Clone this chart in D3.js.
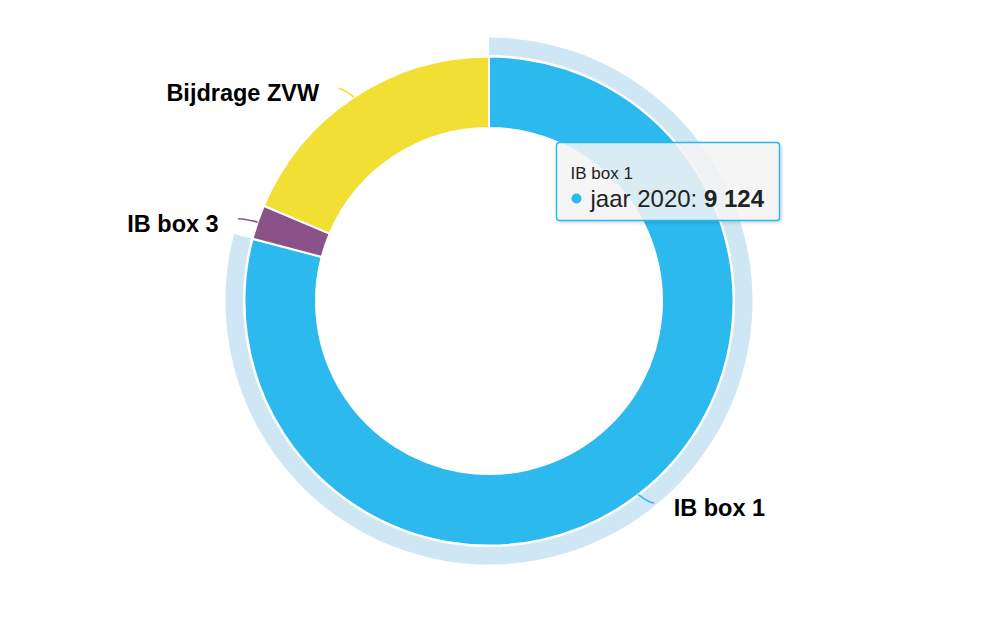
<!DOCTYPE html>
<html>
<head>
<meta charset="utf-8">
<script src="https://cdn.jsdelivr.net/npm/d3@7"></script>
<style>
  html, body { margin: 0; padding: 0; background: #fff; }
  svg { display: block; font-family: "Liberation Sans", Arial, Helvetica, sans-serif; }
</style>
</head>
<body>
<svg id="chart" width="1006" height="632"></svg>
<script>
// slices, clockwise from 12 o'clock
const categories = ["IB box 1", "IB box 3", "Bijdrage ZVW"];
const values = [9124, 262, 2149];
const seriesName = "jaar 2020";
const colors = ["#2bb9ee", "#8b5189", "#f1df33"];
const hovered = 0; // slice with tooltip + halo

const cx = 489, cy = 301;
const outerR = 244.5, innerR = 173;
const labelR = 255; // radius used to place the labels vertically

const svg = d3.select("#chart");
const g = svg.append("g").attr("transform", `translate(${cx},${cy})`);

const pie = d3.pie().sort(null).value(d => d.value);
const arcs = pie(categories.map((c, i) => ({ name: c, value: values[i], color: colors[i] })));

const arc = d3.arc().innerRadius(innerR).outerRadius(outerR);
const halo = d3.arc().innerRadius(outerR + 1.5).outerRadius(outerR + 19);

// halo behind hovered slice
g.append("path")
  .attr("d", halo(arcs[hovered]))
  .attr("fill", "#cfe7f4");

g.selectAll("path.slice")
  .data(arcs)
  .enter()
  .append("path")
  .attr("class", "slice")
  .attr("d", arc)
  .attr("fill", d => d.data.color)
  .attr("stroke", "#fff")
  .attr("stroke-width", 2)
  .attr("stroke-linejoin", "round");

// data labels with short curved connectors
const polar = (a, r) => [r * Math.sin(a), -r * Math.cos(a)];
arcs.forEach(d => {
  const mid = (d.startAngle + d.endAngle) / 2;
  const right = Math.sin(mid) > 0;
  const p = polar(mid, outerR);
  const ay = -labelR * Math.cos(mid);
  const ax = (right ? 1 : -1) * (Math.sqrt(labelR * labelR - ay * ay) + 9.5);
  g.append("path")
    .attr("d", `M${ax},${ay} Q${(ax + p[0]) / 2 + (right ? 3 : -3)},${ay} ${p[0]},${p[1]}`)
    .attr("fill", "none")
    .attr("stroke", d.data.color)
    .attr("stroke-width", 1.5);
  g.append("text")
    .attr("x", ax + (right ? 19.5 : -19.5))
    .attr("y", ay + 13)
    .attr("text-anchor", right ? "start" : "end")
    .attr("font-size", 23.5)
    .attr("font-weight", "bold")
    .attr("fill", "#000")
    .text(d.data.name);
});

// tooltip for the hovered point
const defs = svg.append("defs");
const f = defs.append("filter").attr("id", "shadow")
  .attr("x", "-10%").attr("y", "-10%").attr("width", "130%").attr("height", "140%");
f.append("feDropShadow").attr("dx", 1.5).attr("dy", 1.5).attr("stdDeviation", 1.5)
  .attr("flood-color", "#000").attr("flood-opacity", 0.18);

const tip = svg.append("g").attr("transform", "translate(556.5,142.5)");
tip.append("rect")
  .attr("width", 223)
  .attr("height", 78)
  .attr("rx", 3)
  .attr("fill", "rgba(247,247,247,0.85)")
  .attr("stroke", colors[hovered])
  .attr("stroke-width", 1.5)
  .attr("filter", "url(#shadow)");
tip.append("text")
  .attr("x", 14)
  .attr("y", 36)
  .attr("font-size", 17)
  .attr("fill", "#222")
  .text(categories[hovered]);
tip.append("circle")
  .attr("cx", 20)
  .attr("cy", 56)
  .attr("r", 5)
  .attr("fill", colors[hovered]);
const line = tip.append("text")
  .attr("x", 34)
  .attr("y", 64)
  .attr("font-size", 24)
  .attr("fill", "#222");
line.append("tspan").text(seriesName + ": ");
line.append("tspan")
  .attr("font-weight", "bold")
  .text(d3.format(",")(values[hovered]).replace(/,/g, " "));
</script>
</body>
</html>
